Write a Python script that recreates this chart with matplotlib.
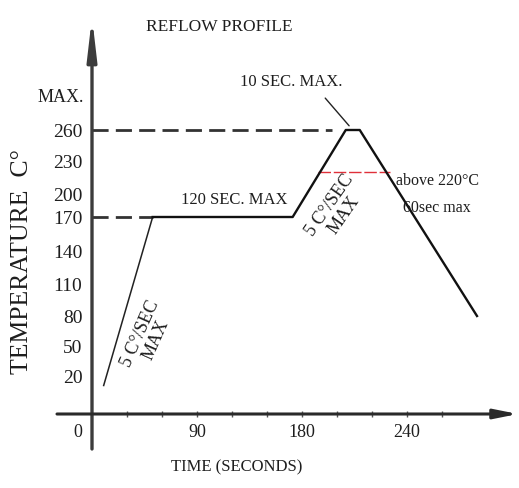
import numpy as np
import matplotlib
matplotlib.use('Agg')
import matplotlib.pyplot as plt

# === DATA ===
# reflow profile: time in seconds, temperature in deg C
profile_time = [10, 52, 172, 205, 213, 280]
profile_temp = [15, 170, 170, 260, 260, 80]

peak_temp = 260
soak_temp = 170
liquidus_temp = 220
liquidus_start, liquidus_end = 189, 230

time_ticks = [30, 60, 90, 120, 150, 180, 200, 220, 240, 260]
time_labels = ['', '', '90', '', '', '180', '', '', '240', '']
temp_ticks = [20, 50, 80, 110, 140, 170, 200, 230, 260]

# the drawing is a sketch, so both axes are piecewise (not linear)
TIME_KNOTS = [0, 90, 180, 240]
TIME_PIX = [92, 197, 302, 407]
TEMP_KNOTS = [0, 20, 50, 80, 110, 140, 170, 200, 230, 260]
TEMP_PIX = [74, 112, 142, 172, 204, 237, 271, 294, 327, 358]

W, H = 519, 489
FONT = 'Liberation Serif'
INK = '#1e1e1e'


def piecewise(xp, fp):
    xp = np.asarray(xp, float)
    fp = np.asarray(fp, float)
    lo = (fp[1] - fp[0]) / (xp[1] - xp[0])
    hi = (fp[-1] - fp[-2]) / (xp[-1] - xp[-2])

    def f(v):
        v = np.asarray(v, float)
        out = np.interp(v, xp, fp)
        out = np.where(v < xp[0], fp[0] + (v - xp[0]) * lo, out)
        out = np.where(v > xp[-1], fp[-1] + (v - xp[-1]) * hi, out)
        return out
    return f


fx, ix = piecewise(TIME_KNOTS, TIME_PIX), piecewise(TIME_PIX, TIME_KNOTS)
fy, iy = piecewise(TEMP_KNOTS, TEMP_PIX), piecewise(TEMP_PIX, TEMP_KNOTS)

plt.rcParams['font.family'] = [FONT, 'DejaVu Sans']

fig = plt.figure(figsize=(W / 100, H / 100), dpi=100)
ax = fig.add_axes([0, 0, 1, 1])
ax.set_xscale('function', functions=(fx, ix))
ax.set_yscale('function', functions=(fy, iy))
ax.set_xlim(float(ix(0)), float(ix(W)))
ax.set_ylim(float(iy(0)), float(iy(H)))

for side in ['top', 'right']:
    ax.spines[side].set_visible(False)
ax.spines['left'].set_position(('data', 0))
ax.spines['bottom'].set_position(('data', 0))
ax.spines['left'].set_visible(False)
ax.spines['bottom'].set_visible(False)

# axes with arrow heads
ax.annotate('', xy=(0, 1 - 18 / H), xytext=(0, 1 - 450 / H),
            xycoords=ax.get_xaxis_transform(),
            arrowprops=dict(arrowstyle='-|>,head_length=2.4,head_width=0.28',
                            lw=2.4, color='#3c3c3c', shrinkA=0, shrinkB=0))
ax.annotate('', xy=(518 / W, 0), xytext=(57 / W, 0),
            xycoords=ax.get_yaxis_transform(),
            arrowprops=dict(arrowstyle='-|>,head_length=1.4,head_width=0.28',
                            lw=2.2, color='#2a2a2a', shrinkA=0, shrinkB=0))

ax.set_xticks(time_ticks, labels=time_labels)
ax.set_yticks(temp_ticks, labels=[str(t) for t in temp_ticks])
ax.tick_params(axis='x', direction='inout', length=5, width=1, color='#555555',
               pad=4, labelsize=13, labelcolor=INK)
ax.tick_params(axis='y', length=0, pad=7, labelsize=14, labelcolor=INK)
ax.annotate('0', xy=(0, 0), xytext=(-10, -18), textcoords='offset pixels',
            ha='right', va='center', fontsize=13, color=INK)
ax.annotate('MAX.', xy=(0, peak_temp), xytext=(-8, 33), textcoords='offset pixels',
            ha='right', va='center', fontsize=13, color=INK)

# reference levels
ax.plot([0, profile_time[1]], [soak_temp, soak_temp], color='#333333', lw=2,
        dashes=(5.8, 2.6))
ax.plot([0, 197], [peak_temp, peak_temp], color='#333333', lw=2,
        dashes=(5.8, 2.6))
ax.plot([liquidus_start, liquidus_end], [liquidus_temp, liquidus_temp],
        color='#e0303a', lw=1, dashes=(9, 2))

# the profile itself
ax.plot(profile_time[:2], profile_temp[:2], color='#222222', lw=1.1)
ax.plot(profile_time[1:], profile_temp[1:], color='#111111', lw=1.7)

# labels
ax.text(219 / W, 1 - 27 / H, 'REFLOW PROFILE', transform=ax.transAxes,
        ha='center', va='center', fontsize=12.5, color=INK)
ax.text(237 / W, 1 - 467 / H, 'TIME (SECONDS)', transform=ax.transAxes,
        ha='center', va='center', fontsize=12, color=INK)
ax.text(22 / W, 1 - 262 / H, 'TEMPERATURE  C°', transform=ax.transAxes,
        ha='center', va='center', rotation=90, fontsize=18.5, color=INK)

ax.annotate('10 SEC. MAX.', xy=(209, peak_temp), xytext=(-61, 49),
            textcoords='offset pixels', ha='center', va='center',
            fontsize=12, color=INK,
            arrowprops=dict(arrowstyle='-', lw=1, color='#222222',
                            relpos=(0.75, 0), shrinkA=6, shrinkB=4))
ax.text(122, 193, '120 SEC. MAX', ha='center', va='center', fontsize=12,
        color=INK)
ax.text(234, 213, 'above 220°C', ha='left', va='center', fontsize=11.5,
        color=INK)
ax.text(237.5, 183, '60sec max', ha='left', va='center', fontsize=11.5,
        color=INK)

ax.text(48, 60, '5 C°/SEC\nMAX', ha='center', va='center', rotation=66,
        rotation_mode='anchor', fontsize=13, color=INK, linespacing=1.0)
ax.text(200, 180, '5 C°/SEC\nMAX', ha='center', va='center', rotation=55,
        rotation_mode='anchor', fontsize=13, color=INK, linespacing=1.0)

fig.savefig('out.png', dpi=100, facecolor='white')
